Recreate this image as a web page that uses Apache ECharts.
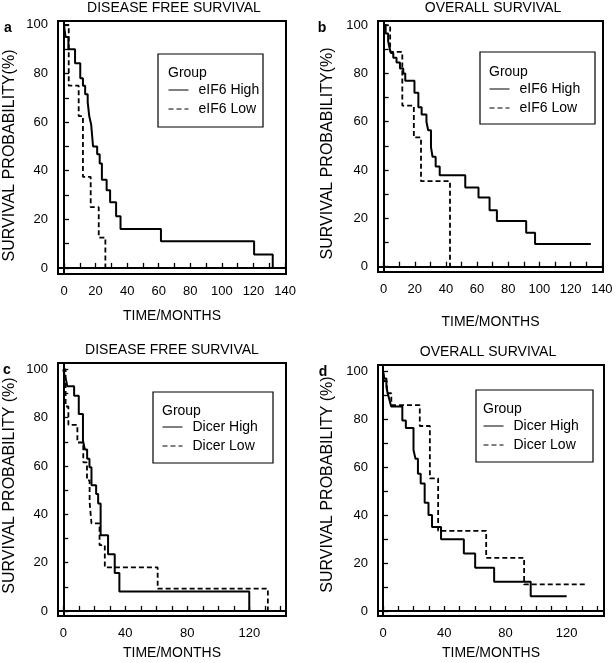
<!DOCTYPE html>
<html>
<head>
<meta charset="utf-8">
<script src="https://cdn.jsdelivr.net/npm/echarts@6/dist/echarts.min.js"></script>
<style>
  html, body { margin: 0; padding: 0; background: #fff; }
  #main { width: 616px; height: 663px; }
</style>
</head>
<body>
<div id="main"></div>
<script>
// [months, survival %] points
var dfsEif6High = [[0,100],[1,95],[2.8,90],[7,84.2],[10.3,78],[12,75],[13.4,71.5],[15,68.2],[16,62.4],[17.2,59],[18.4,50],[21,46.8],[22.6,43],[24,36.3],[27,32],[29.2,27],[33,21.3],[35.8,16],[61.4,11],[120.4,5.5],[132.2,0]];
var dfsEif6Low = [[0,100],[3,75],[9.3,62.5],[12,37.5],[16.9,25],[22,12.5],[26.2,0]];
var osEif6High = [[0,100],[1.3,96.5],[2.9,93.5],[3.6,91],[4.7,88.5],[6.2,86.5],[8.3,84.5],[10.5,82],[12.6,80],[13.9,77],[19.8,72],[22.3,66],[24.4,63],[27.5,60],[28.6,56.5],[30.4,49.5],[31.4,45.5],[33.4,41.5],[36,37.8],[52.4,32.8],[60.9,28.6],[68,23.4],[72.7,18.9],[91.5,14],[97.2,9.4],[133,9.4]];
var osEif6Low = [[0,100],[4.2,88.9],[12,66.7],[19.4,53.5],[24,35.4],[42.6,0]];
var dfsDicerHigh = [[0,100],[1,97],[1.8,95.5],[2.6,93],[7,89],[10,81.5],[12.7,70.5],[13.9,66.8],[15.4,63],[16.9,59.5],[18.2,52],[21.2,48.4],[22.5,44.5],[24.1,31.3],[28.9,23.5],[33.2,15.7],[36.2,8],[120,0]];
var dfsDicerLow = [[0,100],[1.5,84.6],[3.3,77],[9.1,69.7],[12.9,61.5],[15.3,54],[17,45],[18.2,36.2],[23.4,27.2],[26.8,18],[60.9,9.2],[132,0]];
var osDicerHigh = [[0,100],[0.8,97.2],[2.2,93.7],[3,91],[4.3,88],[5.3,85.5],[12.6,79.6],[14.9,76.5],[19.9,67.3],[21.2,63.6],[22.8,57.4],[24.6,53.3],[27.2,45.2],[29.7,40.1],[32,35.1],[37.9,30],[52.8,24],[60.2,18.1],[72.6,12.2],[96.5,6.2],[120,6.2]];
var osDicerLow = [[0,100],[1,96],[2.5,91],[5.4,86],[24,77.3],[30.6,55.4],[36,33.5],[67.4,22.2],[92.2,11.1],[132.6,11.1]];

var xTicks = [0,10,20,30,40,50,60,70,80,90,100,110,120,130,140];
var xLabels20 = [0,20,40,60,80,100,120,140];
var xLabels40 = [0,40,80,120];
var yTicks = [0,10,20,30,40,50,60,70,80,90,100];
var yLabels = [0,20,40,60,80,100];

var panelTitles = ['DISEASE FREE SURVIVAL', 'OVERALL SURVIVAL', 'DISEASE FREE SURVIVAL', 'OVERALL SURVIVAL'];
var panelLetters = ['a', 'b', 'c', 'd'];
var yNames = ['SURVIVAL PROBABILITY(%)', 'SURVIVAL PROBABILITY(%)', 'SURVIVAL PROBABILITY (%)', 'SURVIVAL PROBABILITY (%)'];
var highNames = ['eIF6 High', 'eIF6 High', 'Dicer High', 'Dicer High'];
var lowNames = ['eIF6 Low', 'eIF6 Low', 'Dicer Low', 'Dicer Low'];
var highData = [dfsEif6High, osEif6High, dfsDicerHigh, osDicerHigh];
var lowData = [dfsEif6Low, osEif6Low, dfsDicerLow, osDicerLow];

var font = 'Liberation Sans, Arial, sans-serif';

// layout of each panel (pixels); yShift moves the rotated axis name down (+) or up (-)
var panels = [
  { left: 58, top: 21, width: 228, height: 253, xmin: -3.8, xmax: 140.6, ymin: -2.5, ymax: 101.6, labels: xLabels20,
    titleX: 174, titleY: 8, letterX: 8, letterY: 28, yGap: 40, xGap: 35, yShift: 8,
    box: [158, 54, 105, 73], groupY: 73, legendX: 168, legendY: 83 },
  { left: 378, top: 21, width: 225, height: 251, xmin: -3.6, xmax: 140.8, ymin: -2.2, ymax: 101.7, labels: xLabels20,
    titleX: 493, titleY: 8, letterX: 322, letterY: 28, yGap: 42, xGap: 43, yShift: 7,
    box: [480, 52, 115, 72], groupY: 72, legendX: 489, legendY: 82 },
  { left: 58, top: 363, width: 228, height: 253, xmin: -3.4, xmax: 143.7, ymin: -2.1, ymax: 102.6, labels: xLabels40,
    titleX: 172, titleY: 350, letterX: 7, letterY: 370, yGap: 40, xGap: 30, yShift: -4,
    box: [153, 392, 120, 71], groupY: 411, legendX: 162, legendY: 420 },
  { left: 378, top: 365, width: 226, height: 251, xmin: -3.3, xmax: 144.4, ymin: -2.1, ymax: 102.8, labels: xLabels40,
    titleX: 488, titleY: 352, letterX: 323, letterY: 372, yGap: 42, xGap: 30, yShift: -6,
    box: [476, 390, 117, 72], groupY: 409, legendX: 483, legendY: 419 }
];

var grids = [], xAxes = [], yAxes = [], series = [], legends = [], graphics = [];

panels.forEach(function (p, i) {
  var namePad = p.yShift > 0 ? [0, 2 * p.yShift, 0, 0] : [0, 0, 0, -2 * p.yShift];
  grids.push({
    left: p.left, top: p.top, width: p.width, height: p.height,
    show: true, borderColor: '#000', borderWidth: 2, backgroundColor: 'transparent'
  });
  xAxes.push({
    gridIndex: i, type: 'value', min: p.xmin, max: p.xmax,
    axisLine: { show: true, lineStyle: { color: '#000', width: 2 } },
    axisTick: { show: true, inside: true, length: 5, customValues: xTicks, lineStyle: { color: '#000', width: 1.3 } },
    axisLabel: { customValues: p.labels, color: '#000', fontSize: 13, fontFamily: font, margin: 11 },
    splitLine: { show: false },
    name: 'TIME/MONTHS', nameLocation: 'middle', nameGap: p.xGap,
    nameTextStyle: { color: '#000', fontSize: 14, fontFamily: font }
  });
  yAxes.push({
    gridIndex: i, type: 'value', min: p.ymin, max: p.ymax,
    axisLine: { show: true, lineStyle: { color: '#000', width: 2 } },
    axisTick: { show: true, inside: true, length: 5, customValues: yTicks, lineStyle: { color: '#000', width: 1.3 } },
    axisLabel: { customValues: yLabels, color: '#000', fontSize: 13, fontFamily: font, margin: 10 },
    splitLine: { show: false },
    name: yNames[i], nameLocation: 'middle', nameGap: p.yGap,
    nameTextStyle: { color: '#000', fontSize: 16, fontFamily: font, padding: namePad }
  });
  series.push({
    name: highNames[i], type: 'line', step: 'end', symbol: 'none',
    xAxisIndex: i, yAxisIndex: i, data: highData[i],
    lineStyle: { color: '#000', width: 2, type: 'solid' }, itemStyle: { color: '#000' }
  });
  series.push({
    name: lowNames[i], type: 'line', step: 'end', symbol: 'none',
    xAxisIndex: i, yAxisIndex: i, data: lowData[i],
    lineStyle: { color: '#000', width: 1.8, type: [5, 3] }, itemStyle: { color: '#000' }
  });
  legends.push({
    data: [highNames[i], lowNames[i]], orient: 'vertical', left: p.legendX, top: p.legendY,
    itemWidth: 20, itemHeight: 12, itemGap: 5, selectedMode: false, padding: 0,
    lineStyle: { width: 1 },
    itemStyle: { opacity: 0 },
    textStyle: { color: '#000', fontSize: 14, fontFamily: font, padding: [0, 0, 0, 5] }
  });
  graphics.push({
    type: 'rect', shape: { x: p.box[0], y: p.box[1], width: p.box[2], height: p.box[3] },
    style: { fill: 'transparent', stroke: '#000', lineWidth: 1.2 }, z: 10
  });
  graphics.push({
    type: 'text', x: p.legendX, y: p.groupY,
    style: { text: 'Group', font: '14px ' + font, fill: '#000', textAlign: 'left', textVerticalAlign: 'middle' }
  });
  graphics.push({
    type: 'text', x: p.titleX, y: p.titleY,
    style: { text: panelTitles[i], font: '14px ' + font, fill: '#000', textAlign: 'center', textVerticalAlign: 'middle' }
  });
  graphics.push({
    type: 'text', x: p.letterX, y: p.letterY,
    style: { text: panelLetters[i], font: 'bold 14px ' + font, fill: '#000', textAlign: 'center', textVerticalAlign: 'middle' }
  });
});

var chart = echarts.init(document.getElementById('main'));
chart.setOption({
  animation: false,
  backgroundColor: '#fff',
  grid: grids,
  xAxis: xAxes,
  yAxis: yAxes,
  legend: legends,
  graphic: graphics,
  series: series
});
</script>
</body>
</html>
